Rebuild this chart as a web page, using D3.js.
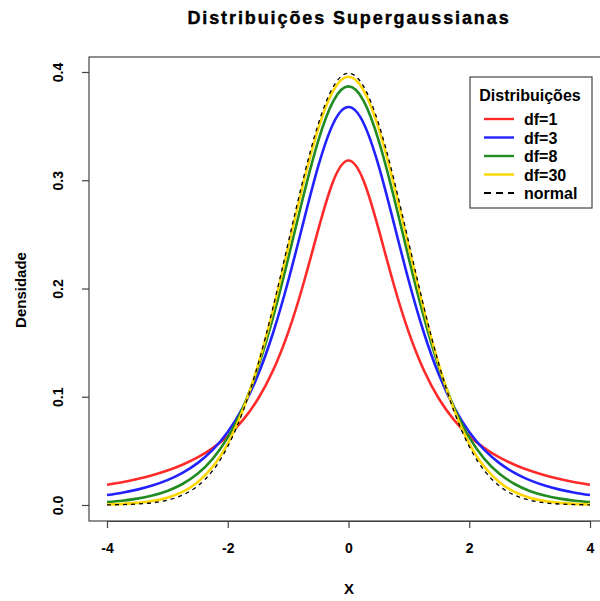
<!DOCTYPE html>
<html>
<head>
<meta charset="utf-8">
<script src="https://cdn.jsdelivr.net/npm/d3@7"></script>
<style>
  body { margin: 0; background: #fff; }
  text { font-family: "Liberation Sans", Arial, sans-serif; font-weight: bold; }
</style>
</head>
<body>
<div id="chart"></div>
<script>
// grid of x values (step 0.25)
const xs = [-4, -3.75, -3.5, -3.25, -3, -2.75, -2.5, -2.25, -2, -1.75, -1.5, -1.25, -1, -0.75, -0.5, -0.25,
  0, 0.25, 0.5, 0.75, 1, 1.25, 1.5, 1.75, 2, 2.25, 2.5, 2.75, 3, 3.25, 3.5, 3.75, 4];

const df1 = [0.0187, 0.0211, 0.0240, 0.0275, 0.0318, 0.0372, 0.0439, 0.0525, 0.0637, 0.0784, 0.0979, 0.1242, 0.1592, 0.2037, 0.2546, 0.2996,
  0.3183, 0.2996, 0.2546, 0.2037, 0.1592, 0.1242, 0.0979, 0.0784, 0.0637, 0.0525, 0.0439, 0.0372, 0.0318, 0.0275, 0.0240, 0.0211, 0.0187];
const df3 = [0.0092, 0.0114, 0.0142, 0.0180, 0.0230, 0.0297, 0.0387, 0.0509, 0.0675, 0.0900, 0.1200, 0.1589, 0.2067, 0.2606, 0.3132, 0.3527,
  0.3676, 0.3527, 0.3132, 0.2606, 0.2067, 0.1589, 0.1200, 0.0900, 0.0675, 0.0509, 0.0387, 0.0297, 0.0230, 0.0180, 0.0142, 0.0114, 0.0092];
const df8 = [0.0028, 0.0040, 0.0059, 0.0088, 0.0130, 0.0194, 0.0288, 0.0426, 0.0624, 0.0899, 0.1268, 0.1733, 0.2276, 0.2848, 0.3367, 0.3734,
  0.3867, 0.3734, 0.3367, 0.2848, 0.2276, 0.1733, 0.1268, 0.0899, 0.0624, 0.0426, 0.0288, 0.0194, 0.0130, 0.0088, 0.0059, 0.0040, 0.0028];
const df30 = [0.0005, 0.0010, 0.0020, 0.0037, 0.0068, 0.0121, 0.0211, 0.0353, 0.0568, 0.0877, 0.1290, 0.1801, 0.2380, 0.2967, 0.3479, 0.3831,
  0.3956, 0.3831, 0.3479, 0.2967, 0.2380, 0.1801, 0.1290, 0.0877, 0.0568, 0.0353, 0.0211, 0.0121, 0.0068, 0.0037, 0.0020, 0.0010, 0.0005];
const normal = [0.0001, 0.0004, 0.0009, 0.0020, 0.0044, 0.0091, 0.0175, 0.0317, 0.0540, 0.0863, 0.1295, 0.1826, 0.2420, 0.3011, 0.3521, 0.3867,
  0.3989, 0.3867, 0.3521, 0.3011, 0.2420, 0.1826, 0.1295, 0.0863, 0.0540, 0.0317, 0.0175, 0.0091, 0.0044, 0.0020, 0.0009, 0.0004, 0.0001];

const seriesNames = ["df=1", "df=3", "df=8", "df=30", "normal"];
const seriesValues = [df1, df3, df8, df30, normal];
const seriesColors = ["#ff2b2b", "#2222ff", "#228b22", "#ffd700", "#000000"];
const xTicks = [-4, -2, 0, 2, 4];
const yTicks = [0.0, 0.1, 0.2, 0.3, 0.4];

const width = 600, height = 601;
const box = { left: 89, top: 57, right: 609, bottom: 521 };

const svg = d3.select("#chart")
  .append("svg")
  .attr("width", width)
  .attr("height", height);

const x = d3.scaleLinear()
  .domain([-4, 4])
  .range([107, 590]);

const y = d3.scaleLinear()
  .domain([0, 0.4])
  .range([505, 72]);

svg.append("defs").append("clipPath")
  .attr("id", "clip")
  .append("rect")
  .attr("x", box.left).attr("y", box.top)
  .attr("width", box.right - box.left).attr("height", box.bottom - box.top);

// curves (drawn in order, normal on top)
const line = d3.line()
  .x((d, i) => x(xs[i]))
  .y(d => y(d))
  .curve(d3.curveNatural);

const curves = svg.append("g").attr("clip-path", "url(#clip)");
seriesValues.forEach((vals, i) => {
  curves.append("path")
    .attr("d", line(vals))
    .attr("fill", "none")
    .attr("stroke", seriesColors[i])
    .attr("stroke-width", i === 4 ? 1.3 : 2.6)
    .attr("stroke-dasharray", i === 4 ? "4,4" : null);
});

// plot box
svg.append("rect")
  .attr("x", box.left).attr("y", box.top)
  .attr("width", box.right - box.left).attr("height", box.bottom - box.top)
  .attr("fill", "none")
  .attr("stroke", "#444")
  .attr("stroke-width", 1.2);

// axes
const xAxis = d3.axisBottom(x).tickValues(xTicks).tickSize(7).tickPadding(15)
  .tickFormat(d => String(d));
const gx = svg.append("g")
  .attr("transform", "translate(0," + box.bottom + ")")
  .call(xAxis);
gx.select(".domain").attr("d", "M" + x(-4) + ",0.5H" + x(4));
gx.selectAll("text").attr("font-size", 14).attr("fill", "#000")
  .style("font-family", "Liberation Sans, Arial, sans-serif").style("font-weight", "bold");
gx.selectAll("line, path").attr("stroke", "#444").attr("stroke-width", 1.2);

const yAxis = d3.axisLeft(y).tickValues(yTicks).tickSize(7).tickPadding(0)
  .tickFormat(d3.format(".1f"));
const gy = svg.append("g")
  .attr("transform", "translate(" + box.left + ",0)")
  .call(yAxis);
gy.select(".domain").remove();
gy.selectAll("line").attr("stroke", "#444").attr("stroke-width", 1.2);
gy.selectAll("text")
  .attr("x", 0).attr("dy", 0)
  .attr("transform", "translate(-26,0) rotate(-90)")
  .attr("text-anchor", "middle")
  .attr("font-size", 14).attr("fill", "#000")
  .style("font-family", "Liberation Sans, Arial, sans-serif").style("font-weight", "bold");

// titles
svg.append("text")
  .attr("x", 349).attr("y", 24)
  .attr("text-anchor", "middle")
  .attr("font-size", 18)
  .attr("letter-spacing", 1.9)
  .attr("stroke", "#000")
  .attr("stroke-width", 0.4)
  .text("Distribuições Supergaussianas");

svg.append("text")
  .attr("x", 349).attr("y", 594)
  .attr("text-anchor", "middle")
  .attr("font-size", 15)
  .text("X");

svg.append("text")
  .attr("transform", "translate(26,290) rotate(-90)")
  .attr("text-anchor", "middle")
  .attr("font-size", 15)
  .text("Densidade");

// legend
const lg = svg.append("g");
lg.append("rect")
  .attr("x", 470).attr("y", 77)
  .attr("width", 122).attr("height", 131)
  .attr("fill", "#fff")
  .attr("stroke", "#444")
  .attr("stroke-width", 1.2);
lg.append("text")
  .attr("x", 530).attr("y", 101)
  .attr("text-anchor", "middle")
  .attr("font-size", 16)
  .text("Distribuições");
seriesNames.forEach((name, i) => {
  const yy = 119 + i * 18.5;
  lg.append("line")
    .attr("x1", 484).attr("x2", 514)
    .attr("y1", yy).attr("y2", yy)
    .attr("stroke", seriesColors[i])
    .attr("stroke-width", i === 4 ? 1.8 : 2.4)
    .attr("stroke-dasharray", i === 4 ? "7,5" : null);
  lg.append("text")
    .attr("x", 524).attr("y", yy + 6)
    .attr("font-size", 16)
    .text(name);
});
</script>
</body>
</html>
